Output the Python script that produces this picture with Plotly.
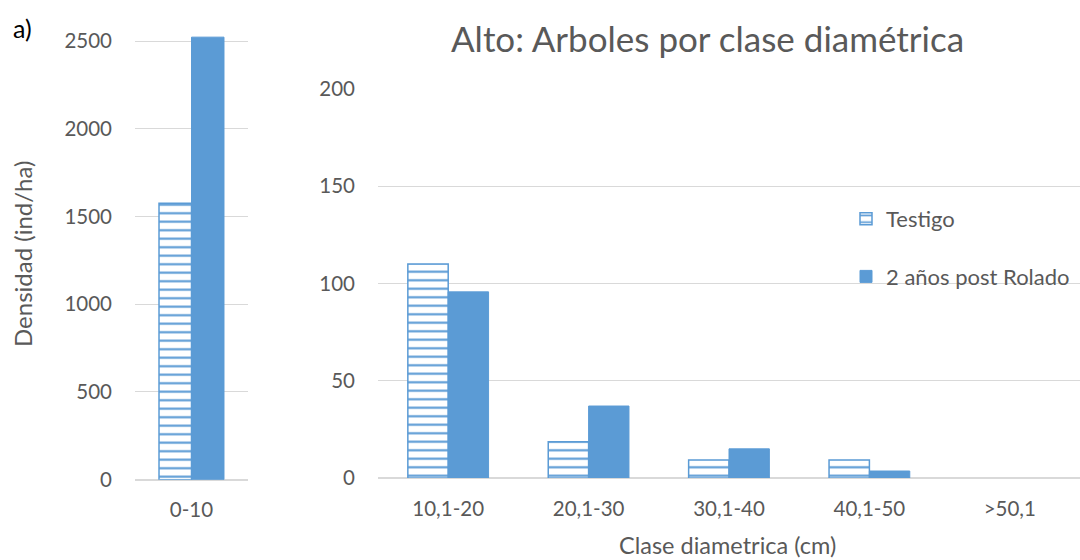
import plotly.graph_objects as go

# Data
small_class = ["0-10"]
small_testigo = [1575]
small_rolado = [2522]

classes = ["10,1-20", "20,1-30", "30,1-40", "40,1-50", ">50,1"]
testigo = [110, 18.6, 9.3, 9.3, 0]
rolado = [95.7, 37, 15, 3.6, 0]

left_ticks = [0, 500, 1000, 1500, 2000, 2500]
right_ticks = [0, 50, 100, 150, 200]

BLUE = "#5B9BD5"
GREY = "#595959"
GRID = "#D9D9D9"
FONT = "Lato, 'Open Sans', sans-serif"
W, H = 1080, 560

pattern = dict(shape="-", fgcolor=BLUE, bgcolor="white", size=8.5, solidity=0.25)


def edge(values, w):
    # no outline on empty bars
    return [w if v > 0 else 0 for v in values]


fig = go.Figure()

# left panel (0-10 cm)
fig.add_trace(go.Bar(x=small_class, y=small_testigo, name="Testigo",
                     marker=dict(color="white", pattern=pattern, line=dict(color=BLUE, width=1.5)),
                     xaxis="x", yaxis="y", showlegend=False, legendgroup="t"))
fig.add_trace(go.Bar(x=small_class, y=small_rolado, name="2 años post Rolado",
                     marker=dict(color=BLUE, line=dict(color=BLUE, width=1)),
                     xaxis="x", yaxis="y", showlegend=False, legendgroup="r"))

# right panel
fig.add_trace(go.Bar(x=classes, y=testigo, name="Testigo",
                     marker=dict(color="white", pattern=pattern,
                                 line=dict(color=BLUE, width=edge(testigo, 1.5))),
                     xaxis="x2", yaxis="y2", legendgroup="t"))
fig.add_trace(go.Bar(x=classes, y=rolado, name="2 años post Rolado",
                     marker=dict(color=BLUE, line=dict(color=BLUE, width=edge(rolado, 1))),
                     xaxis="x2", yaxis="y2", legendgroup="r"))

axis_font = dict(family=FONT, size=20.5, color=GREY)
common_x = dict(type="category", showgrid=False, showline=False, ticks="",
                tickfont=axis_font, ticklabelstandoff=16, automargin=False)
common_y = dict(showgrid=True, gridcolor=GRID, gridwidth=1.3, zeroline=True,
                zerolinecolor=GRID, zerolinewidth=1.5, showline=False, ticks="",
                tickfont=axis_font, ticklabelstandoff=22, automargin=False)

# left axis runs a bit past 2500 so the tallest bar is not clipped
left_top = 2560
px_per_unit = (479.7 - 41) / 2500

fig.update_layout(
    width=W, height=H,
    template="none",
    paper_bgcolor="white", plot_bgcolor="white",
    margin=dict(l=0, r=0, t=0, b=0),
    barmode="group", bargap=0.425, bargroupgap=0,
    font=dict(family=FONT, color=GREY),
    xaxis=dict(common_x, domain=[135 / W, 248 / W], anchor="y"),
    yaxis=dict(common_y, domain=[1 - 479.7 / H, 1 - (479.7 - left_top * px_per_unit) / H],
               range=[0, left_top], tickvals=left_ticks, anchor="x"),
    xaxis2=dict(common_x, domain=[378 / W, 1.0], anchor="y2"),
    yaxis2=dict(common_y, domain=[1 - 478 / H, 1 - 89 / H], range=[0, 200],
                tickvals=right_ticks, anchor="x2"),
    legend=dict(x=846 / W, y=1 - 198 / H, xanchor="left", yanchor="top",
                traceorder="grouped", tracegroupgap=26, itemwidth=30,
                font=dict(family=FONT, size=22, color=GREY),
                bgcolor="rgba(0,0,0,0)"),
    showlegend=True,
)

fig.add_annotation(text="Alto: Arboles por clase diamétrica", x=707 / W, y=1 - 38 / H,
                   xanchor="center", yanchor="middle",
                   xref="paper", yref="paper", showarrow=False,
                   font=dict(family=FONT, size=35, color=GREY))
fig.add_annotation(text="a)", x=22 / W, y=1 - 28 / H, xanchor="center", yanchor="middle",
                   xref="paper", yref="paper",
                   showarrow=False, font=dict(family=FONT, size=25, color="black"))
fig.add_annotation(text="Densidad (ind/ha)", x=23 / W, y=1 - 254 / H, textangle=-90,
                   xanchor="center", yanchor="middle",
                   xref="paper", yref="paper", showarrow=False,
                   font=dict(family=FONT, size=24, color=GREY))
fig.add_annotation(text="Clase diametrica (cm)", x=727 / W, y=1 - 545 / H,
                   xanchor="center", yanchor="middle",
                   xref="paper", yref="paper", showarrow=False,
                   font=dict(family=FONT, size=23.5, color=GREY))

fig.write_html("out.html", config={"displayModeBar": False},
               post_script="document.body.style.margin = '0';")
